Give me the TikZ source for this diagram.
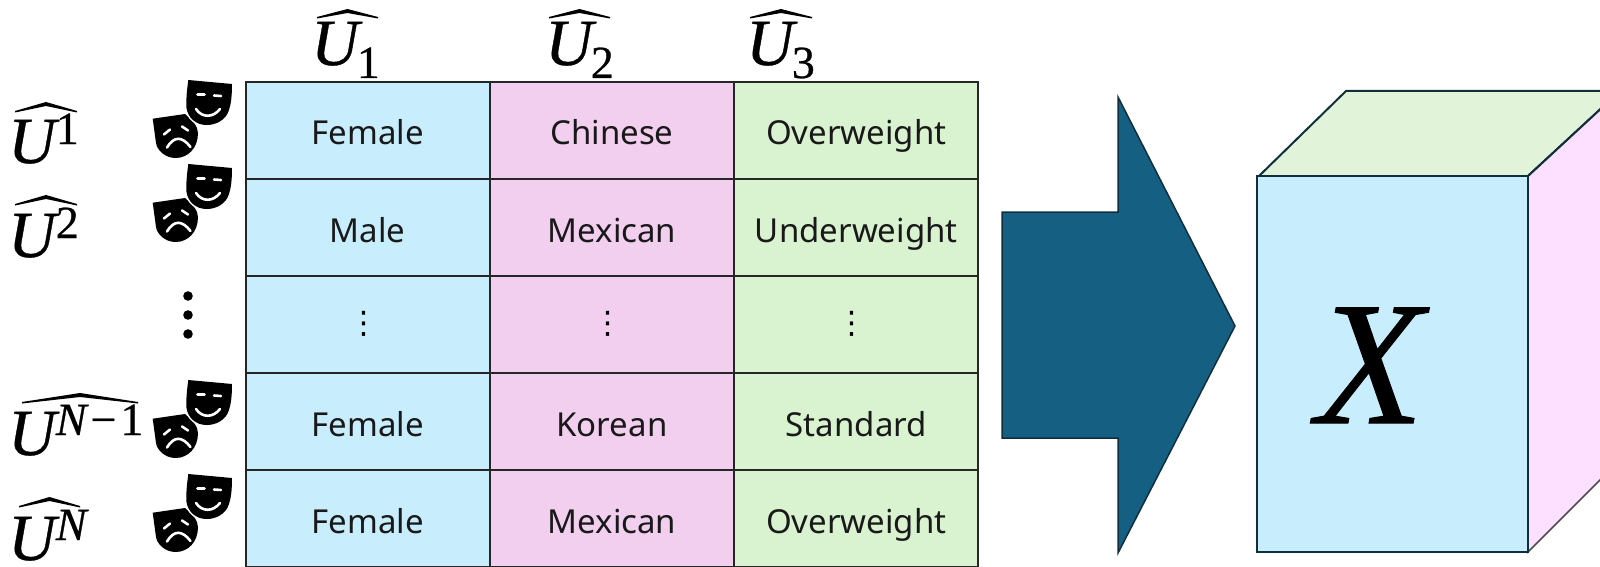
\documentclass[tikz,border=0pt]{standalone}
\usepackage{fontspec}
\setmainfont{Noto Sans}
\newfontfamily\lblfont[FakeBold=0.6]{Liberation Serif}
\newfontfamily\dotfont{DejaVu Sans}
\definecolor{cblue}{HTML}{C8EDFD}
\definecolor{cpink}{HTML}{F2CEEF}
\definecolor{cgreen}{HTML}{D9F2D0}
\definecolor{arrowblue}{HTML}{156082}
\definecolor{darkline}{HTML}{0F2F3D}
\definecolor{cubetop}{HTML}{E1F4DA}
\definecolor{cubeside}{HTML}{FDDFFF}
\newcommand{\bigU}{\fontsize{66}{70}\selectfont\itshape U}
\newcommand{\supr}[2]{\raisebox{#1pt}{\fontsize{46}{50}\selectfont #2}}
\newcommand{\hatmark}[4]{\fill (#1,#4) -- (#2*0.5+#1*0.5,#3) -- (#2,#4) -- (#2,#4+1.5) -- (#2*0.5+#1*0.5,#3+4) -- (#1,#4+1.5) -- cycle;}
\tikzset{
  x=1pt,y=-1pt,
  cellbox/.style={draw=black!85,line width=2pt,minimum width=244.3pt,minimum height=97pt,inner sep=0pt,text=black!90,text height=38pt,text depth=9pt,font=\fontsize{33}{38}\selectfont},
  dotcell/.style={font=\dotfont\fontsize{31}{36}\selectfont},
  lbl/.style={inner sep=0pt,anchor=base west,font=\lblfont},
  face/.style={line width=2.6pt,draw=white,line cap=round},
  maskpair/.pic={
    \fill[black] (152.7,118.7) -- (185,114) .. controls (192,120) and (198,126) .. (198,133) .. controls (198,148) and (188,158) .. (175.7,158) .. controls (165,158) and (157,150) .. (156,143) -- cycle;
    \draw[face] (164,134.5) -- (170,129.5);
    \draw[face] (182,126.5) -- (188,130.5);
    \draw[face] (167,147.5) .. controls (174,136) and (182,136) .. (190.5,147);
    \path[draw=white,line width=3pt] (188.3,80) -- (232,84) .. controls (232,96) and (231,104) .. (229,110) .. controls (226,120) and (216,125) .. (206.7,125) .. controls (196,125) and (188,118) .. (186.5,108) .. controls (186,98) and (187,90) .. (188.3,80) -- cycle;
    \fill[black] (188.3,80) -- (232,84) .. controls (232,96) and (231,104) .. (229,110) .. controls (226,120) and (216,125) .. (206.7,125) .. controls (196,125) and (188,118) .. (186.5,108) .. controls (186,98) and (187,90) .. (188.3,80) -- cycle;
    \draw[face] (197.5,94.5) -- (204.5,94.5);
    \draw[face] (214,95.5) -- (221,96);
    \draw[face] (196,109) .. controls (202,118) and (213,118) .. (220,109);
  }
}
\begin{document}
\begin{tikzpicture}
\path[clip,use as bounding box] (0,0) rectangle (1600,567);
% table
\foreach \r/\y/\a/\b/\c in {1/130.5/Female/Chinese/Overweight,2/227.5/Male/Mexican/Underweight,4/421.5/Female/Korean/Standard,5/518.5/Female/Mexican/Overweight}{
  \node[cellbox,fill=cblue] (a\r) at (367.7,\y) {\a};
  \node[cellbox,fill=cpink] (b\r) at (612,\y) {\b};
  \node[cellbox,fill=cgreen] (c\r) at (856.3,\y) {\c};
}
\node[cellbox,fill=cblue] (a3) at (367.7,324.5) {};
\node[cellbox,fill=cpink] (b3) at (612,324.5) {};
\node[cellbox,fill=cgreen] (c3) at (856.3,324.5) {};
\node[dotcell] (da) at (363.5,324) {⋮};
\node[dotcell] (db) at (607.5,324) {⋮};
\node[dotcell] (dc) at (852,324) {⋮};
% column labels
\node[lbl] (u1) at (311,65) {\bigU\kern-2pt\supr{-13}{\upshape 1}};
\node[lbl] (u2) at (545,65) {\bigU\kern-2pt\supr{-13}{\upshape 2}};
\node[lbl] (u3) at (746,65) {\bigU\kern-2pt\supr{-13}{\upshape 3}};
\hatmark{317}{378}{9}{17}
\hatmark{549}{610}{9}{17}
\hatmark{750}{812}{9}{17}
% row labels
\node[lbl] (r1) at (8,163) {\bigU\kern0pt\supr{19}{\upshape 1}};
\node[lbl] (r2) at (8,257) {\bigU\kern0pt\supr{19}{\upshape 2}};
\node[lbl] (r3) at (8,455) {\bigU\kern0pt\supr{20}{\itshape N\kern4pt\upshape−\kern4pt 1}};
\node[lbl] (r4) at (8,560) {\bigU\kern0pt\supr{20}{\itshape N}};
\hatmark{15}{77}{102}{111}
\hatmark{15}{77}{195}{204}
\hatmark{22}{138}{393}{402}
\hatmark{19}{80}{497}{506}
% masks
\pic at (0,0) {maskpair};
\pic at (0,84) {maskpair};
\pic at (0,300) {maskpair};
\pic at (0,394) {maskpair};
% dots
\foreach \y in {296,315,334} \fill (188,\y) circle[radius=4.8];
% arrow
\draw[fill=arrowblue,draw=darkline,line width=1.5pt,line join=miter] (1002,212) -- (1118,212) -- (1118,97) -- (1235,326) -- (1118,553) -- (1118,438) -- (1002,438) -- cycle;
% cube
\draw[fill=cubetop,draw=darkline,line width=2pt] (1259,176) -- (1346,91) -- (1620,91) -- (1528,176) -- cycle;
\draw[fill=cubeside,draw=black!70,line width=1.5pt] (1528,176) -- (1620,91) -- (1620,460) -- (1528,552) -- cycle;
\draw[draw=darkline,line width=2pt] (1528,176) -- (1620,91);
\node[draw=darkline,line width=1.5pt,fill=cblue,minimum width=271pt,minimum height=376pt,inner sep=0pt] (front) at (1392.5,364) {};
\node[inner sep=0pt,anchor=base west,font=\lblfont\fontsize{176}{190}\selectfont\itshape] (x) at (1316,423) {X};
\end{tikzpicture}
\end{document}
